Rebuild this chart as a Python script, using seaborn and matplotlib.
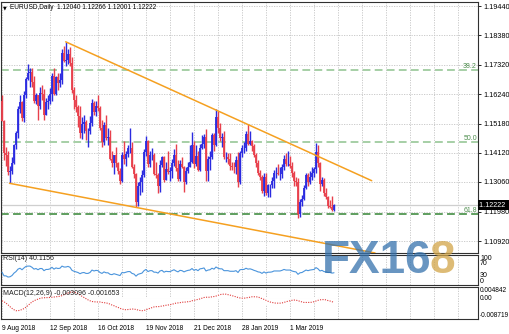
import matplotlib
matplotlib.use("Agg")
import matplotlib.pyplot as plt
import matplotlib.transforms as mtransforms
import numpy as np
import seaborn as sns

# ---------------- data ----------------
opens = [1.1600,1.1527,1.1411,1.1405,1.1343,1.1345,1.1375,1.1439,1.1482,1.1571,
 1.1597,1.1538,1.1622,1.1680,1.1700,1.1705,1.1670,1.1600,1.1620,1.1580,
 1.1630,1.1625,1.1550,1.1595,1.1600,1.1625,1.1690,1.1625,1.1685,1.1665,
 1.1675,1.1775,1.1745,1.1750,1.1770,1.1737,1.1640,1.1605,1.1577,1.1547,
 1.1485,1.1516,1.1525,1.1490,1.1490,1.1520,1.1594,1.1560,1.1580,1.1575,
 1.1500,1.1452,1.1512,1.1465,1.1470,1.1390,1.1375,1.1405,1.1375,1.1345,
 1.1310,1.1405,1.1388,1.1407,1.1430,1.1430,1.1360,1.1335,1.1235,1.1290,
 1.1305,1.1330,1.1415,1.1455,1.1370,1.1405,1.1405,1.1335,1.1330,1.1290,
 1.1367,1.1395,1.1315,1.1352,1.1343,1.1345,1.1375,1.1405,1.1355,1.1318,
 1.1370,1.1360,1.1305,1.1345,1.1360,1.1380,1.1440,1.1370,1.1400,1.1350,
 1.1430,1.1445,1.1468,1.1345,1.1390,1.1395,1.1475,1.1440,1.1540,1.1500,
 1.1467,1.1470,1.1395,1.1395,1.1390,1.1365,1.1362,1.1360,1.1385,1.1305,
 1.1410,1.1430,1.1430,1.1480,1.1445,1.1455,1.1435,1.1405,1.1375,1.1340,
 1.1325,1.1275,1.1325,1.1265,1.1295,1.1295,1.1310,1.1340,1.1340,1.1335,
 1.1335,1.1360,1.1390,1.1370,1.1370,1.1365,1.1340,1.1310,1.1307,1.1190,
 1.1235,1.1246,1.1285,1.1330,1.1305,1.1325,1.1340,1.1352,1.1415,1.1375,
 1.1300,1.1315,1.1265,1.1250,1.1220,1.1217,1.12040]
highs = [1.1620,1.1530,1.1432,1.1418,1.1365,1.1395,1.1445,1.1492,1.1580,1.1623,
 1.1600,1.1637,1.1686,1.1733,1.1719,1.1718,1.1690,1.1628,1.1623,1.1650,
 1.1657,1.1642,1.1610,1.1622,1.1648,1.1702,1.1720,1.1690,1.1700,1.1700,
 1.1788,1.1800,1.1815,1.1790,1.1795,1.1760,1.1650,1.1622,1.1585,1.1580,
 1.1540,1.1548,1.1530,1.1500,1.1545,1.1608,1.1600,1.1600,1.1621,1.1580,
 1.1530,1.1525,1.1550,1.1500,1.1496,1.1420,1.1405,1.1433,1.1380,1.1355,
 1.1415,1.1456,1.1420,1.1440,1.1500,1.1450,1.1370,1.1340,1.1305,1.1325,
 1.1350,1.1425,1.1472,1.1460,1.1420,1.1430,1.1410,1.1380,1.1340,1.1385,
 1.1400,1.1400,1.1380,1.1420,1.1360,1.1390,1.1425,1.1442,1.1385,1.1385,
 1.1395,1.1365,1.1360,1.1380,1.1440,1.1486,1.1455,1.1440,1.1420,1.1445,
 1.1475,1.1480,1.1498,1.1400,1.1420,1.1485,1.1485,1.1570,1.1562,1.1520,
 1.1485,1.1490,1.1415,1.1410,1.1410,1.1380,1.1380,1.1400,1.1415,1.1420,
 1.1440,1.1450,1.1490,1.1515,1.1490,1.1460,1.1445,1.1410,1.1385,1.1350,
 1.1330,1.1340,1.1340,1.1300,1.1300,1.1325,1.1350,1.1360,1.1370,1.1360,
 1.1370,1.1405,1.1410,1.1420,1.1400,1.1380,1.1345,1.1325,1.1320,1.1245,
 1.1260,1.1295,1.1340,1.1340,1.1345,1.1360,1.1362,1.1448,1.1440,1.1380,
 1.1325,1.1320,1.1285,1.1255,1.1240,1.1255,1.12266]
lows = [1.1526,1.1386,1.1365,1.1330,1.1301,1.1335,1.1370,1.1425,1.1465,1.1555,
 1.1527,1.1525,1.1610,1.1675,1.1650,1.1649,1.1594,1.1590,1.1530,1.1570,
 1.1603,1.1530,1.1550,1.1570,1.1590,1.1600,1.1620,1.1620,1.1640,1.1650,
 1.1660,1.1740,1.1725,1.1735,1.1725,1.1630,1.1570,1.1560,1.1505,1.1465,
 1.1463,1.1485,1.1460,1.1432,1.1480,1.1510,1.1550,1.1545,1.1565,1.1495,
 1.1433,1.1440,1.1460,1.1440,1.1385,1.1360,1.1335,1.1360,1.1335,1.1300,
 1.1305,1.1370,1.1365,1.1395,1.1410,1.1355,1.1320,1.1215,1.1218,1.1260,
 1.1270,1.1325,1.1400,1.1360,1.1360,1.1385,1.1330,1.1320,1.1267,1.1270,
 1.1360,1.1305,1.1315,1.1335,1.1310,1.1320,1.1365,1.1345,1.1310,1.1310,
 1.1355,1.1270,1.1300,1.1340,1.1360,1.1375,1.1355,1.1365,1.1345,1.1345,
 1.1425,1.1430,1.1310,1.1310,1.1350,1.1390,1.1420,1.1435,1.1485,1.1455,
 1.1433,1.1390,1.1380,1.1370,1.1350,1.1350,1.1340,1.1335,1.1289,1.1300,
 1.1395,1.1410,1.1420,1.1440,1.1440,1.1420,1.1395,1.1360,1.1330,1.1315,
 1.1265,1.1255,1.1260,1.1250,1.1250,1.1285,1.1285,1.1320,1.1330,1.1315,
 1.1320,1.1350,1.1365,1.1365,1.1355,1.1325,1.1290,1.1290,1.1176,1.1180,
 1.1220,1.1240,1.1280,1.1290,1.1300,1.1315,1.1325,1.1340,1.1360,1.1275,
 1.1290,1.1255,1.1245,1.1212,1.1210,1.1200,1.12001]
closes = [1.1527,1.1411,1.1405,1.1343,1.1345,1.1375,1.1439,1.1482,1.1571,1.1597,
 1.1538,1.1622,1.1680,1.1700,1.1705,1.1670,1.1600,1.1620,1.1580,1.1630,
 1.1625,1.1550,1.1595,1.1600,1.1625,1.1690,1.1625,1.1685,1.1665,1.1675,
 1.1775,1.1745,1.1750,1.1770,1.1737,1.1640,1.1605,1.1577,1.1547,1.1485,
 1.1516,1.1525,1.1490,1.1490,1.1520,1.1594,1.1560,1.1580,1.1575,1.1500,
 1.1452,1.1512,1.1465,1.1470,1.1390,1.1375,1.1405,1.1375,1.1345,1.1310,
 1.1405,1.1388,1.1407,1.1430,1.1430,1.1360,1.1335,1.1235,1.1290,1.1305,
 1.1330,1.1415,1.1455,1.1370,1.1405,1.1405,1.1335,1.1330,1.1290,1.1367,
 1.1395,1.1315,1.1352,1.1343,1.1345,1.1375,1.1405,1.1355,1.1318,1.1370,
 1.1360,1.1305,1.1345,1.1360,1.1380,1.1440,1.1370,1.1400,1.1350,1.1430,
 1.1445,1.1468,1.1345,1.1390,1.1395,1.1475,1.1440,1.1540,1.1500,1.1467,
 1.1470,1.1395,1.1395,1.1390,1.1365,1.1362,1.1360,1.1385,1.1305,1.1410,
 1.1430,1.1430,1.1480,1.1445,1.1455,1.1435,1.1405,1.1375,1.1340,1.1325,
 1.1275,1.1325,1.1265,1.1295,1.1295,1.1310,1.1340,1.1340,1.1335,1.1335,
 1.1360,1.1390,1.1370,1.1370,1.1365,1.1340,1.1310,1.1307,1.1190,1.1235,
 1.1246,1.1285,1.1330,1.1305,1.1325,1.1340,1.1352,1.1415,1.1375,1.1300,
 1.1315,1.1265,1.1250,1.1220,1.1217,1.1204,1.12222]

rsi = [42,30,30,26,27,31,39,44,52,55, 50,56,61,62,62,58,52,54,50,54,
 54,47,51,51,53,58,52,56,54,55, 62,59,59,61,58,48,45,43,41,37,
 40,41,38,38,41,49,46,48,47,41, 38,43,40,40,35,34,37,35,33,31,
 41,40,42,44,44,38,36,29,35,37, 39,47,51,44,47,47,42,42,39,46,
 48,42,45,44,44,47,50,46,43,48, 47,43,46,48,49,54,48,51,47,53,
 54,56,46,49,50,55,52,59,55,53, 53,47,47,47,45,45,45,47,41,50,
 51,51,55,52,53,51,48,46,43,42, 38,43,39,42,42,43,46,46,46,46,
 48,51,49,49,49,46,44,43,35,40, 41,45,49,47,49,50,51,57,53,46,
 48,44,43,41,41,39,40.1156]

macd_main = [-1.5,-3.0,-4.3,-5.7,-6.7,-7.3,-7.2,-6.6,-5.4,-4.2, -3.6,-2.5,-1.2,-0.1,0.8,1.2,1.0,1.0,0.7,0.9,
 1.0,0.5,0.4,0.4,0.5,1.0,0.9,1.2,1.3,1.4, 2.4,3.0,3.4,3.8,3.9,3.2,2.3,1.4,0.5,-0.6,
 -1.2,-1.6,-2.2,-2.7,-2.8,-2.2,-2.0,-1.6,-1.3,-1.7, -2.3,-2.2,-2.5,-2.7,-3.5,-4.2,-4.4,-4.8,-5.3,-5.9,
 -5.5,-5.3,-4.9,-4.4,-4.0,-4.2,-4.5,-5.5,-5.8,-5.9, -5.7,-4.8,-3.7,-3.5,-3.0,-2.6,-2.8,-3.0,-3.4,-3.0,
 -2.4,-2.5,-2.3,-2.2,-2.1,-1.8,-1.3,-1.3,-1.5,-1.2, -1.1,-1.4,-1.3,-1.1,-0.8,-0.1,0.0,0.3,0.1,0.6,
 1.1,1.6,0.9,0.7,0.6,1.1,1.2,2.2,2.6,2.6, 2.6,2.0,1.5,1.1,0.6,0.2,-0.1,-0.2,-0.9,-0.5,
 -0.1,0.2,0.8,1.0,1.2,1.2,1.0,0.5,-0.1,-0.7, -1.5,-1.7,-2.3,-2.5,-2.6,-2.6,-2.4,-2.2,-2.0,-1.8,
 -1.4,-0.8,-0.5,-0.3,-0.2,-0.3,-0.6,-0.8,-2.0,-2.4, -2.6,-2.4,-1.9,-1.7,-1.4,-1.0,-0.6,0.2,0.5,0.1,
 -0.1,-0.7,-1.3,-1.9,-2.4,-2.8,-3.096]
macd_signal = [-1.0,-1.4,-2.0,-2.7,-3.5,-4.2,-4.8,-5.2,-5.2,-5.0, -4.7,-4.3,-3.7,-3.0,-2.2,-1.5,-1.0,-0.6,-0.3,0.0,
 0.2,0.3,0.3,0.4,0.4,0.5,0.6,0.7,0.8,0.9, 1.2,1.6,2.0,2.3,2.6,2.8,2.7,2.4,2.0,1.5,
 0.9,0.4,-0.1,-0.6,-1.0,-1.3,-1.4,-1.5,-1.5,-1.5, -1.7,-1.8,-1.9,-2.1,-2.4,-2.8,-3.1,-3.5,-3.8,-4.2,
 -4.5,-4.7,-4.8,-4.7,-4.6,-4.5,-4.5,-4.7,-4.9,-5.1, -5.2,-5.1,-4.8,-4.5,-4.2,-3.9,-3.6,-3.5,-3.5,-3.4,
 -3.2,-3.1,-2.9,-2.8,-2.6,-2.5,-2.2,-2.0,-1.9,-1.8, -1.6,-1.6,-1.5,-1.4,-1.3,-1.0,-0.8,-0.6,-0.4,-0.2,
 0.1,0.4,0.5,0.5,0.5,0.7,0.8,1.0,1.3,1.6, 1.8,1.8,1.8,1.6,1.4,1.2,0.9,0.7,0.4,0.2,
 0.1,0.1,0.2,0.4,0.5,0.7,0.7,0.7,0.6,0.3, -0.1,-0.4,-0.8,-1.2,-1.5,-1.7,-1.9,-2.0,-2.0,-2.0,
 -1.9,-1.7,-1.4,-1.2,-1.0,-0.8,-0.7,-0.7,-1.0,-1.2, -1.5,-1.7,-1.7,-1.7,-1.7,-1.6,-1.4,-1.1,-0.8,-0.6,
 -0.5,-0.5,-0.6,-0.9,-1.1,-1.4,-1.653]

date_labels = ["9 Aug 2018", "12 Sep 2018", "16 Oct 2018", "19 Nov 2018",
               "21 Dec 2018", "28 Jan 2019", "1 Mar 2019"]
date_label_bars = [0, 24, 48, 72, 96, 120, 144]
price_ticks = [1.19440, 1.18380, 1.17320, 1.16240, 1.15180, 1.14120, 1.13060, 1.11980, 1.10920]
fib_levels = [1.1712, 1.1452, 1.1190]
fib_names = ["38.2", "50.0", "61.8"]
upper_line_bars = [31.85, 184.85]
upper_line_prices = [1.18143, 1.13107]
lower_line_bars = [3.75, 186.5]
lower_line_prices = [1.13013, 1.10487]
last_price = 1.12222
rsi_ticks = [100, 70, 30, 0]
macd_ticks = [0.004842, 0.0, -0.008719]
macd_tick_labels = ["0.004842", "0.00", "-0.008719"]
header = "EURUSD,Daily  1.12040 1.12266 1.12001 1.12222"
rsi_title = "RSI(14) 40.1156"
macd_title = "MACD(12,26,9) -0.003096 -0.001653"

# ---------------- style ----------------
sns.set_theme(style="white")
plt.rcParams['font.family'] = ['Liberation Sans', 'DejaVu Sans']
plt.rcParams['axes.linewidth'] = 0.8

W, H = 510, 334
fig = plt.figure(figsize=(W / 100, H / 100), dpi=100)
fig.patch.set_facecolor('white')

def rect(x0, y0, x1, y1):
    return [x0 / W, 1 - y1 / H, (x1 - x0) / W, (y1 - y0) / H]

ax = fig.add_axes(rect(0.5, 1.5, 478, 252.5))
ax_rsi = fig.add_axes(rect(0.5, 254.5, 478, 285))
ax_macd = fig.add_axes(rect(0.5, 287, 478, 319))

n = len(closes)
idx = np.arange(n)
XMIN, XMAX = -0.75, 238
PX_PER_UNIT = 2758.0
ymin = 1.1306 - (252.5 - 182) / PX_PER_UNIT
ymax = 1.1306 + (182 - 1.5) / PX_PER_UNIT

grid_kw = dict(color='#c4c4c4', lw=0.6, linestyle=(0, (1.5, 1.5)), zorder=0)
for a in (ax, ax_rsi, ax_macd):
    a.set_facecolor('white')
    a.set_xlim(XMIN, XMAX)
    for gx in range(0, 239, 12):
        a.axvline(gx, **grid_kw)
    for s in a.spines.values():
        s.set_color('#303030')
        s.set_linewidth(0.8)
    a.tick_params(axis='both', which='both', labelsize=5.2, length=2.5, width=0.6,
                  pad=1.5, colors='black', direction='out')
    a.yaxis.tick_right()
    a.set_xticks([])

# ---------------- main price panel ----------------
ax.set_ylim(ymin, ymax)
for p in price_ticks:
    ax.axhline(p, **grid_kw)
ax.set_yticks(price_ticks)
ax.set_yticklabels([f"{p:.5f}" for p in price_ticks])

# fib levels
fib_colors = ['#a6cfa6', '#a6cfa6', '#5e9e5e']
for lvl, name, c in zip(fib_levels, fib_names, fib_colors):
    ax.axhline(lvl, color=c, lw=1.4, dashes=(4, 2.2), zorder=1)
    ax.text(XMAX - 0.5, lvl, name, ha='right', va='bottom', fontsize=5,
            color='#4e8e4e', zorder=5)

# current price line
ax.axhline(last_price, color='#cfcfcf', lw=0.9, zorder=1)

# candles (high-low bars)
up_c, dn_c = '#2b2be0', '#e8404c'
cols = [up_c if c >= o else dn_c for o, c in zip(opens, closes)]
ax.vlines(idx, lows, highs, colors=cols, lw=1.0, zorder=3)
body_lo = np.minimum(opens, closes)
body_hi = np.maximum(opens, closes)
ax.vlines(idx, body_lo, body_hi, colors=cols, lw=1.3, zorder=3)

# trend lines
sns.lineplot(x=upper_line_bars, y=upper_line_prices, ax=ax, color='#f5a020', lw=1.1, zorder=4)
sns.lineplot(x=lower_line_bars, y=lower_line_prices, ax=ax, color='#f5a020', lw=1.1, zorder=4)

# last price tag
trans = mtransforms.blended_transform_factory(ax.transAxes, ax.transData)
ax.text(1.003, last_price, "1.12222 ", transform=trans, ha='left', va='center',
        fontsize=5.2, color='white', zorder=10,
        bbox=dict(facecolor='black', edgecolor='none', pad=1.0))
ax.set_xlabel(''); ax.set_ylabel('')

# ---------------- RSI ----------------
ax_rsi.set_ylim(0, 100)
sns.lineplot(x=idx, y=rsi, ax=ax_rsi, color='#4a94dc', lw=0.8, zorder=3)
ax_rsi.set_yticks(rsi_ticks)
ax_rsi.set_yticklabels([str(t) for t in rsi_ticks])
for lab, va in zip(ax_rsi.get_yticklabels(), ['top', 'center', 'center', 'bottom']):
    lab.set_verticalalignment(va)
ax_rsi.tick_params(axis='y', length=0, labelsize=5)
ax_rsi.set_xlabel(''); ax_rsi.set_ylabel('')
ax_rsi.text(0.006, 0.86, rsi_title, transform=ax_rsi.transAxes, fontsize=5,
            ha='left', va='center', color='#202020')

# ---------------- MACD ----------------
ax_macd.set_ylim(macd_ticks[-1], macd_ticks[0])
mm = np.array(macd_main) / 1000.0
ms = np.array(macd_signal) / 1000.0
ax_macd.bar(idx, mm, width=0.5, color='#bdbdbd', zorder=2)
sns.lineplot(x=idx, y=ms, ax=ax_macd, color='#e03a3a', lw=0.8, linestyle=(0, (1, 1.2)), zorder=3)
ax_macd.set_yticks(macd_ticks)
ax_macd.set_yticklabels(macd_tick_labels)
for lab, va in zip(ax_macd.get_yticklabels(), ['top', 'center', 'bottom']):
    lab.set_verticalalignment(va)
ax_macd.tick_params(axis='y', length=0, labelsize=4.7, pad=1.2)
ax_macd.set_xlabel(''); ax_macd.set_ylabel('')
ax_macd.text(0.006, 0.8, macd_title, transform=ax_macd.transAxes, fontsize=5,
             ha='left', va='center', color='#202020')

ax_macd.set_xticks(date_label_bars)
ax_macd.set_xticklabels(date_labels, ha='left', fontsize=4.8)
ax_macd.tick_params(axis='x', length=3, pad=1.5)

# ---------------- header & watermark ----------------
fig.text(3 / W, 1 - 7.5 / H, "\u25bc", fontsize=3.5, ha='left', va='center',
         family=['DejaVu Sans'], color='black')
fig.text(10 / W, 1 - 7.5 / H, header, fontsize=4.7, ha='left', va='center', color='black')

fig.text(322 / W, 1 - 273 / H, "FX16", fontsize=33, weight='bold', color='#3572ad',
         alpha=0.75, ha='left', va='baseline', zorder=20)
fig.text(430 / W, 1 - 273 / H, "8", fontsize=33, weight='bold', color='#d2a548',
         alpha=0.75, ha='left', va='baseline', zorder=20)

fig.savefig("out.png", dpi=100, facecolor='white')
